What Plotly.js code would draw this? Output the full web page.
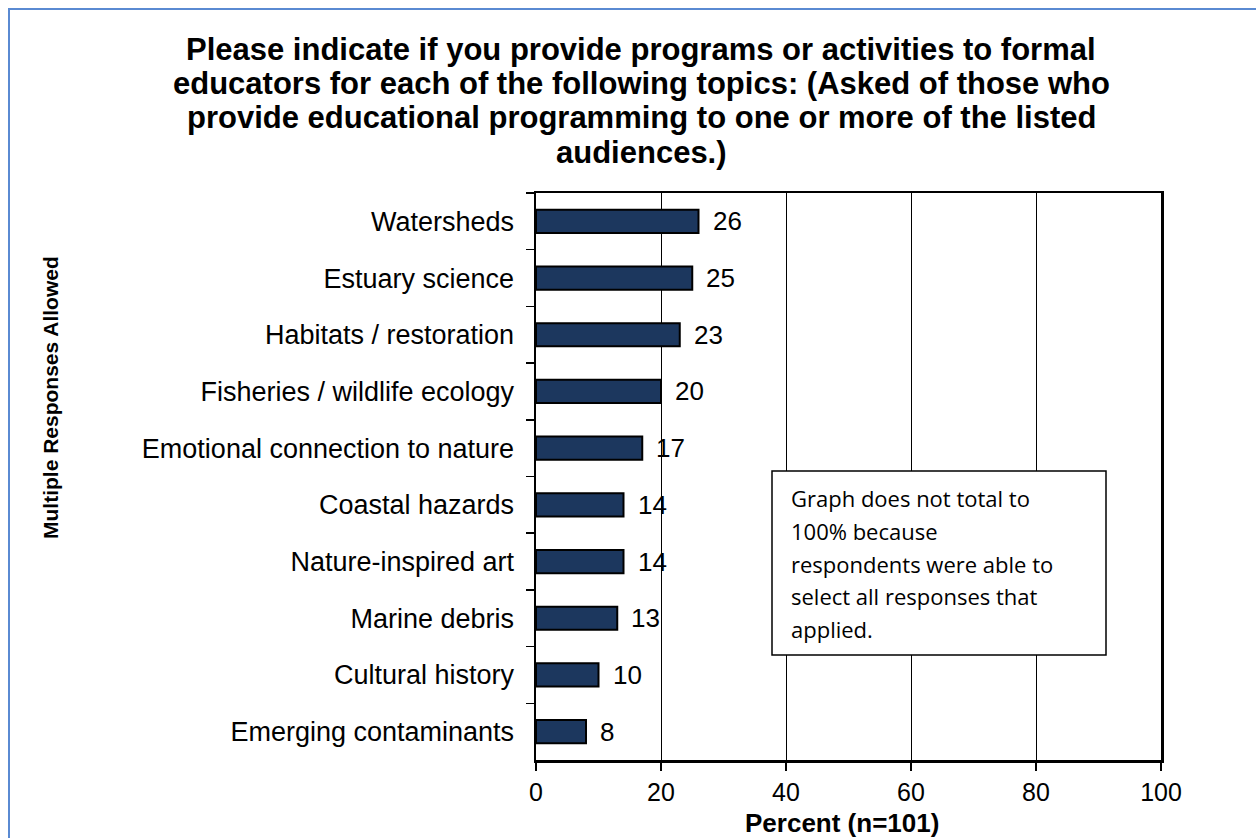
<!DOCTYPE html>
<html>
<head>
<meta charset="utf-8">
<script src="https://cdn.plot.ly/plotly-3.0.1.min.js"></script>
<style>
  html, body { margin: 0; padding: 0; background: #ffffff; width: 1256px; height: 838px; overflow: hidden; }
  #frame { position: absolute; left: 8px; top: 8px; width: 1400px; height: 900px;
           border-left: 2.5px solid #5a8ad2; border-top: 2.5px solid #5a8ad2; }
  #chart { position: absolute; left: 0; top: 0; width: 1256px; height: 838px; }
</style>
</head>
<body>
<div id="frame"></div>
<div id="chart"></div>
<script>
// ---- data ----
const categories = [
  "Watersheds",
  "Estuary science",
  "Habitats / restoration",
  "Fisheries / wildlife ecology",
  "Emotional connection to nature",
  "Coastal hazards",
  "Nature-inspired art",
  "Marine debris",
  "Cultural history",
  "Emerging contaminants"
];
const percents = [26, 25, 23, 20, 17, 14, 14, 13, 10, 8];
const xTickValues = [0, 20, 40, 60, 80, 100];
const titleLines = [
  "Please indicate if you provide programs or activities to formal",
  "educators for each of the following topics: (Asked of those who",
  "provide educational programming to one or more of the listed",
  "audiences.)"
];
const noteLines = [
  "Graph does not total to",
  "100% because",
  "respondents were able to",
  "select all responses that",
  "applied."
];
const xTitle = "Percent (n=101)";
const yTitle = "Multiple Responses Allowed";

// ---- layout geometry (pixels) ----
const W = 1256, H = 838;
const M = { l: 536, r: 95, t: 193, b: 78 };
const PW = W - M.l - M.r, PH = H - M.t - M.b;
const px2x = p => (p - M.l) / PW;
const py2y = p => (H - M.b - p) / PH;

const FONT = "Liberation Sans, Arial, sans-serif";
const NOTE_FONT = "Open Sans, Noto Sans, sans-serif";

const trace = {
  type: "bar",
  orientation: "h",
  x: percents,
  y: categories,
  width: 0.41,
  marker: { color: "#1c375e", line: { color: "#000000", width: 2 } },
  hoverinfo: "x+y"
};

const annotations = [];
// data labels
categories.forEach((c, i) => {
  annotations.push({
    x: percents[i], y: c, xref: "x", yref: "y",
    text: String(percents[i]), showarrow: false,
    xanchor: "left", yanchor: "middle", xshift: 12,
    font: { family: FONT, size: 26, color: "#000" }
  });
});
// title lines
titleLines.forEach((t, i) => {
  annotations.push({
    x: px2x(641), y: py2y(49 + i * 34.5), xref: "paper", yref: "paper",
    text: "<b>" + t + "</b>", showarrow: false,
    xanchor: "center", yanchor: "middle",
    font: { family: FONT, size: 31, color: "#000" }
  });
});
// y title
annotations.push({
  x: px2x(50), y: py2y(398), xref: "paper", yref: "paper",
  text: "<b>" + yTitle + "</b>", showarrow: false, textangle: -90,
  xanchor: "center", yanchor: "middle",
  font: { family: FONT, size: 21, color: "#000" }
});
// x title
annotations.push({
  x: px2x(842), y: py2y(823), xref: "paper", yref: "paper",
  text: "<b>" + xTitle + "</b>", showarrow: false,
  xanchor: "center", yanchor: "middle",
  font: { family: FONT, size: 26, color: "#000" }
});
// note lines
noteLines.forEach((t, i) => {
  annotations.push({
    x: px2x(789), y: py2y(498 + i * 32.8), xref: "paper", yref: "paper",
    text: t, showarrow: false,
    xanchor: "left", yanchor: "middle",
    font: { family: NOTE_FONT, size: 22, color: "#000" }
  });
});

const layout = {
  width: W, height: H,
  margin: M,
  paper_bgcolor: "rgba(0,0,0,0)",
  plot_bgcolor: "#ffffff",
  showlegend: false,
  xaxis: {
    range: [0, 100],
    tickvals: xTickValues,
    ticktext: xTickValues.map(String),
    showgrid: true, gridcolor: "#000000", gridwidth: 1,
    zeroline: false,
    showline: true, linecolor: "#000000", linewidth: 2.5, mirror: true,
    ticks: "outside", ticklen: 8, tickwidth: 1.5, tickcolor: "#000",
    tickfont: { family: FONT, size: 25, color: "#000" },
    fixedrange: true
  },
  yaxis: {
    type: "category",
    autorange: "reversed",
    showgrid: false, zeroline: false,
    showline: true, linecolor: "#000000", linewidth: 2.5, mirror: true,
    ticks: "outside", tickson: "boundaries", ticklen: 8, tickwidth: 1.5, tickcolor: "#000",
    ticklabelstandoff: 14,
    tickfont: { family: FONT, size: 27, color: "#000" },
    fixedrange: true
  },
  shapes: [{
    type: "rect", xref: "paper", yref: "paper",
    x0: px2x(772), x1: px2x(1106), y0: py2y(655), y1: py2y(471),
    fillcolor: "#ffffff", line: { color: "#000000", width: 1.5 }, layer: "above"
  }],
  annotations: annotations
};

Plotly.newPlot("chart", [trace], layout, { displayModeBar: false, staticPlot: true });
</script>
</body>
</html>
